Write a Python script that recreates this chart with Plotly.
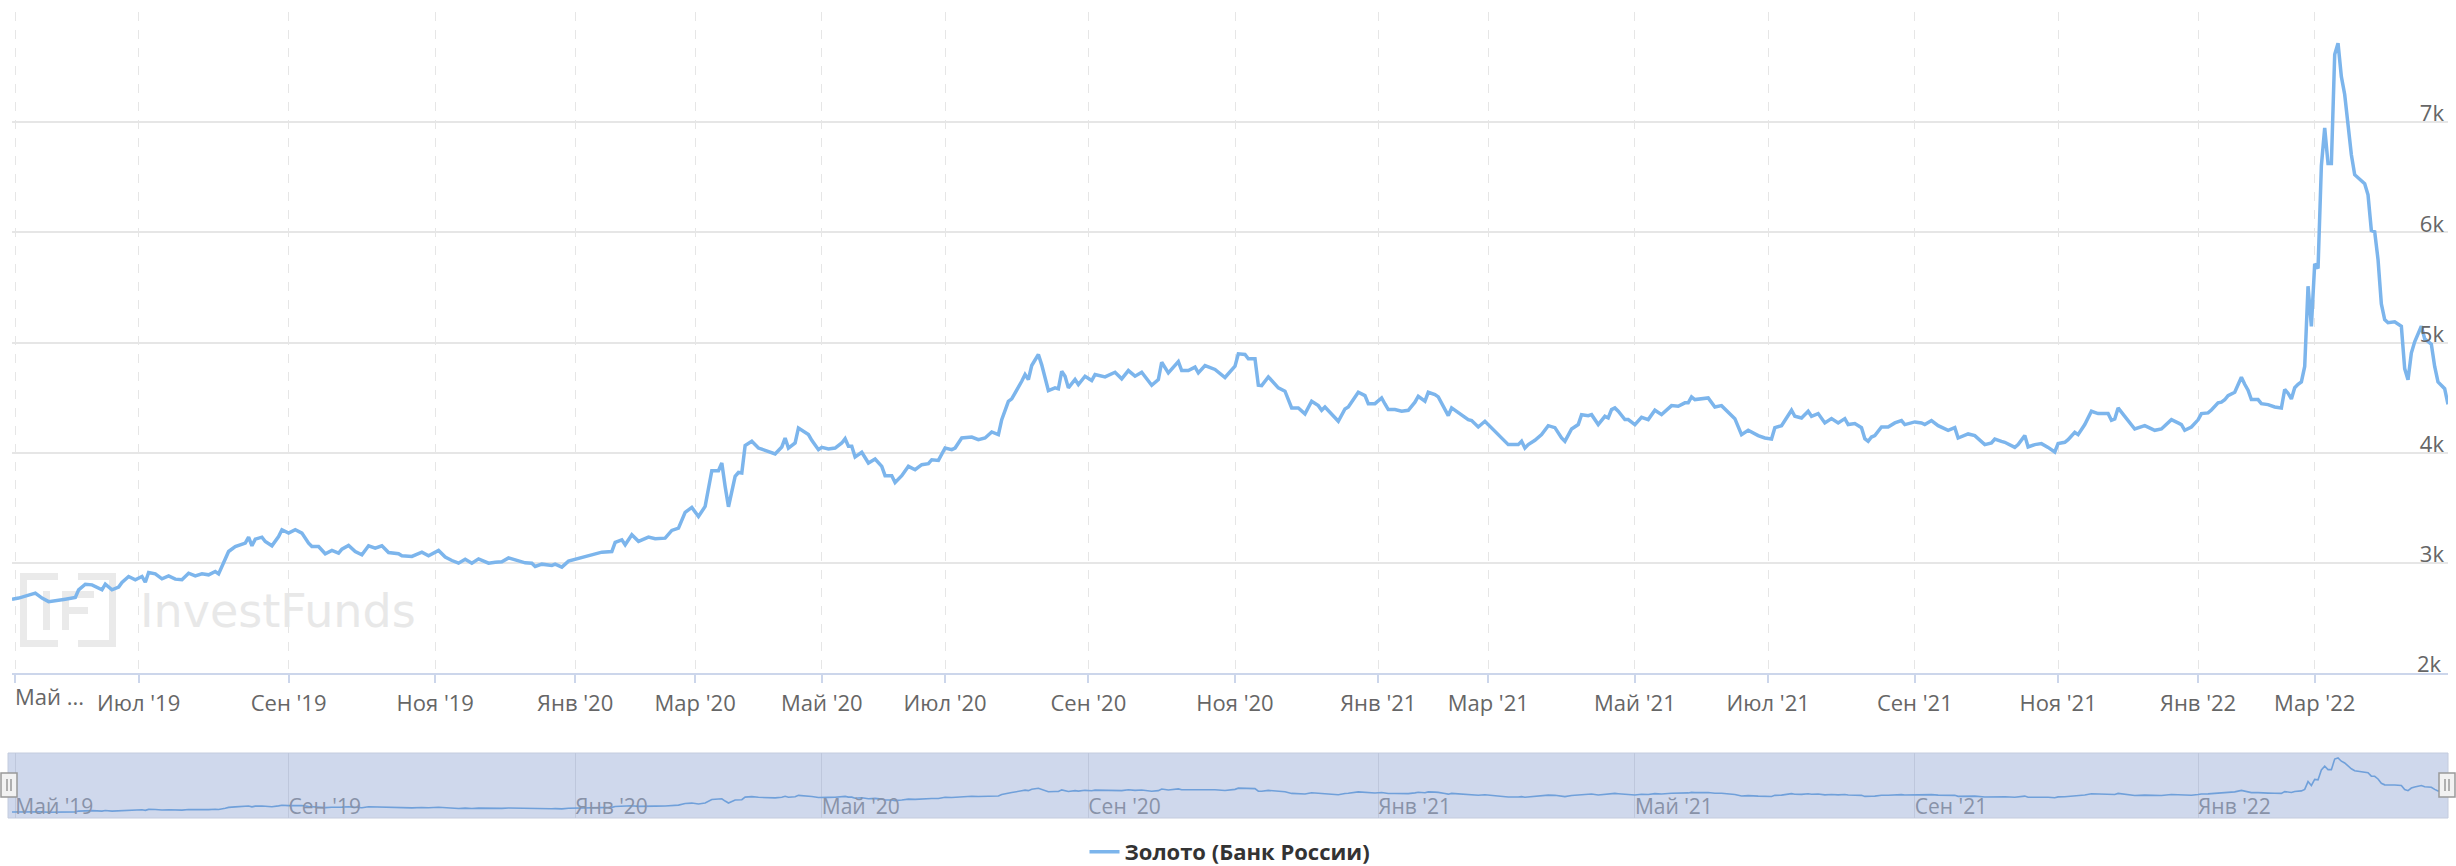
import pandas as pd
import plotly.graph_objects as go

# ---------------- data ----------------
# non-trading weekdays (Russian holidays / days without a published price)
holidays = [
    "2019-05-01", "2019-05-02", "2019-05-03", "2019-05-09", "2019-05-10", "2019-06-12", "2019-11-04",
    "2020-01-01", "2020-01-02", "2020-01-03", "2020-01-06", "2020-01-07", "2020-01-08", "2020-02-24",
    "2020-03-09", "2020-03-30", "2020-03-31", "2020-04-01", "2020-04-02", "2020-04-03",
    "2020-05-01", "2020-05-04", "2020-05-05", "2020-05-11", "2020-06-12", "2020-06-24", "2020-07-01",
    "2020-11-04",
    "2021-01-01", "2021-01-04", "2021-01-05", "2021-01-06", "2021-01-07", "2021-01-08", "2021-02-22",
    "2021-02-23", "2021-03-08", "2021-05-03", "2021-05-10", "2021-06-14", "2021-11-04", "2021-11-05",
    "2021-12-31",
    "2022-01-03", "2022-01-04", "2022-01-05", "2022-01-06", "2022-01-07", "2022-02-23", "2022-03-07",
    "2022-03-08",
]
start_date = "2019-04-30"
end_date = "2022-04-29"

# trading-day number (counted from start_date) of each reading
day_idx = [
    0, 2, 7, 9, 11, 13, 16, 19, 20, 22, 24, 27, 28, 30, 32, 33, 35, 37, 39, 40,
    41, 43, 45, 47, 49, 51, 53, 55, 57, 59, 61, 62, 64, 65, 67, 70, 71, 72, 73, 75,
    76, 78, 80, 81, 83, 85, 87, 89, 90, 92, 94, 96, 98, 99, 101, 103, 105, 107, 109, 111,
    113, 116, 117, 120, 123, 125, 128, 130, 132, 134, 136, 138, 140, 143, 145, 147, 149, 152, 154, 156,
    157, 159, 162, 163, 165, 167, 170, 171, 173, 175, 177, 180, 181, 183, 184, 186, 188, 191, 193, 196,
    198, 200, 202, 204, 206, 208, 210, 212, 213, 214, 215, 217, 218, 219, 220, 222, 224, 226, 228, 229,
    231, 232, 233, 235, 236, 239, 240, 242, 243, 245, 247, 249, 250, 251, 252, 253, 255, 257, 259, 261,
    262, 264, 265, 267, 269, 271, 273, 275, 276, 278, 280, 282, 283, 285, 288, 290, 292, 294, 296, 297,
    299, 300, 303, 304, 305, 306, 308, 309, 311, 313, 314, 315, 316, 317, 319, 320, 322, 324, 325, 328,
    331, 333, 335, 337, 339, 342, 344, 345, 347, 349, 350, 351, 353, 355, 356, 358, 361, 364, 367, 368,
    370, 371, 373, 374, 375, 377, 380, 382, 384, 386, 388, 390, 392, 393, 394, 398, 400, 401, 404, 406,
    407, 409, 411, 412, 413, 415, 417, 419, 421, 422, 424, 425, 427, 428, 430, 431, 432, 434, 437, 438,
    440, 442, 444, 447, 449, 452, 453, 454, 455, 457, 459, 461, 463, 465, 466, 468, 470, 471, 473, 474,
    476, 478, 479, 480, 481, 482, 484, 485, 487, 489, 491, 493, 495, 498, 500, 502, 503, 504, 505, 509,
    511, 513, 515, 517, 519, 521, 524, 526, 528, 529, 531, 534, 535, 537, 539, 540, 542, 544, 546, 548,
    550, 551, 553, 555, 556, 557, 558, 559, 561, 563, 565, 567, 568, 571, 573, 574, 576, 578, 581, 583,
    584, 587, 589, 592, 594, 595, 597, 598, 601, 602, 604, 605, 607, 609, 611, 613, 614, 616, 617, 619,
    620, 622, 624, 626, 629, 630, 631, 632, 634, 636, 637, 640, 643, 645, 648, 650, 651, 652, 654, 656,
    657, 659, 660, 662, 663, 664, 665, 667, 669, 670, 671, 672, 674, 675, 677, 679, 681, 682, 683, 684,
    685, 686, 687, 688, 689, 690, 691, 692, 693, 694, 695, 696, 697, 698, 699, 700, 701, 702, 703, 705,
    706, 707, 708, 709, 710, 711, 712, 713, 715, 717, 718, 719, 720, 721, 723, 724, 726, 727, 728, 730,
    731,
]
price = [
    2670, 2680, 2725, 2680, 2648, 2654, 2670, 2685, 2755, 2806, 2800, 2755, 2806, 2755, 2780, 2821, 2876, 2846, 2876, 2824,
    2912, 2900, 2855, 2882, 2852, 2846, 2906, 2882, 2900, 2891, 2921, 2900, 3027, 3103, 3148, 3179, 3233, 3155, 3215, 3233,
    3194, 3155, 3239, 3300, 3270, 3300, 3270, 3179, 3148, 3148, 3082, 3112, 3088, 3124, 3158, 3103, 3073, 3155, 3133, 3155,
    3094, 3082, 3064, 3058, 3097, 3064, 3112, 3052, 3021, 2997, 3033, 2997, 3036, 2997, 3006, 3009, 3045, 3015, 3000, 2997,
    2967, 2988, 2976, 2988, 2961, 3015, 3042, 3048, 3064, 3082, 3097, 3103, 3185, 3209, 3164, 3255, 3195, 3233, 3218, 3224,
    3294, 3315, 3458, 3503, 3421, 3512, 3836, 3836, 3906, 3694, 3509, 3785, 3820, 3815, 4064, 4103, 4042, 4021, 4003, 3988,
    4052, 4133, 4042, 4088, 4224, 4164, 4112, 4027, 4048, 4033, 4042, 4088, 4127, 4058, 4058, 3961, 4003, 3906, 3942, 3876,
    3791, 3791, 3730, 3791, 3876, 3845, 3891, 3900, 3936, 3930, 4042, 4027, 4042, 4133, 4142, 4118, 4133, 4188, 4164, 4300,
    4466, 4488, 4648, 4709, 4664, 4791, 4891, 4797, 4564, 4588, 4579, 4739, 4694, 4588, 4664, 4618, 4694, 4655, 4709, 4688,
    4730, 4670, 4745, 4694, 4730, 4612, 4664, 4821, 4724, 4797, 4827, 4745, 4745, 4776, 4724, 4791, 4755, 4682, 4785, 4897,
    4891, 4852, 4852, 4612, 4609, 4688, 4588, 4558, 4406, 4406, 4352, 4467, 4427, 4385, 4415, 4285, 4397, 4415, 4548, 4518,
    4445, 4445, 4497, 4442, 4391, 4391, 4376, 4385, 4458, 4512, 4467, 4548, 4527, 4506, 4391, 4336, 4406, 4361, 4300, 4291,
    4233, 4285, 4227, 4133, 4073, 4073, 4103, 4042, 4073, 4112, 4164, 4245, 4227, 4133, 4103, 4215, 4255, 4345, 4336, 4345,
    4255, 4330, 4315, 4391, 4406, 4376, 4300, 4300, 4255, 4321, 4300, 4385, 4345, 4427, 4421, 4452, 4452, 4506, 4482, 4497,
    4415, 4427, 4367, 4309, 4164, 4203, 4155, 4133, 4124, 4227, 4245, 4385, 4330, 4315, 4376, 4330, 4355, 4270, 4309, 4270,
    4309, 4255, 4264, 4227, 4127, 4103, 4142, 4155, 4233, 4233, 4270, 4291, 4255, 4279, 4270, 4255, 4291, 4245, 4203, 4227,
    4133, 4170, 4155, 4073, 4088, 4124, 4103, 4094, 4048, 4073, 4155, 4052, 4073, 4082, 4048, 4006, 4082, 4094, 4118, 4185,
    4164, 4255, 4376, 4355, 4355, 4294, 4306, 4406, 4330, 4255, 4215, 4245, 4203, 4215, 4300, 4270, 4255, 4203, 4233, 4298,
    4355, 4361, 4387, 4452, 4458, 4480, 4518, 4548, 4685, 4621, 4567, 4482, 4482, 4445, 4436, 4415, 4406, 4573, 4540, 4488,
    4589, 4620, 4642, 4783, 5511, 5147, 5714, 5673, 6604, 6947, 6624, 6624, 7615, 7716, 7413, 7251, 6968, 6705, 6523, 6462,
    6442, 6341, 6017, 6005, 5754, 5350, 5208, 5180, 5188, 5147, 4763, 4662, 4904, 5006, 5147, 5034, 4985, 4783, 4642, 4581,
    4439,
]

month_ticks = ["2019-05-01", "2019-07-01", "2019-09-01", "2019-11-01", "2020-01-01", "2020-03-01",
               "2020-05-01", "2020-07-01", "2020-09-01", "2020-11-01", "2021-01-01", "2021-03-01",
               "2021-05-01", "2021-07-01", "2021-09-01", "2021-11-01", "2022-01-01", "2022-03-01"]
month_labels = ["Май '19", "Июл '19", "Сен '19", "Ноя '19", "Янв '20", "Мар '20",
                "Май '20", "Июл '20", "Сен '20", "Ноя '20", "Янв '21", "Мар '21",
                "Май '21", "Июл '21", "Сен '21", "Ноя '21", "Янв '22", "Мар '22"]
nav_ticks = ["2019-05-01", "2019-09-01", "2020-01-01", "2020-05-01", "2020-09-01",
             "2021-01-01", "2021-05-01", "2021-09-01", "2022-01-01"]
nav_labels = ["Май '19", "Сен '19", "Янв '20", "Май '20", "Сен '20",
              "Янв '21", "Май '21", "Сен '21", "Янв '22"]
y_ticks = [2000, 3000, 4000, 5000, 6000, 7000, 8000]
y_labels = ["2k", "3k", "4k", "5k", "6k", "7k", ""]
series_name = "Золото (Банк России)"

# ---------------- build ----------------
trading_days = pd.bdate_range(start_date, end_date, freq="C", holidays=holidays)
dates = trading_days[day_idx]


def first_trading(m):
    return trading_days[trading_days >= pd.Timestamp(m)][0]


main_tickvals = [first_trading(m) for m in month_ticks]
nav_tickvals = [first_trading(m) for m in nav_ticks]
main_ticktext = [""] + month_labels[1:]   # first label is drawn truncated, as in the source
# the lowest y label sits on the bottom edge: drawn as an annotation so it is not hidden
y_ticktext = [""] + y_labels[1:]

W, H = 2456, 866
ML, MR, MT, MB = 12, 8, 12, 48
PW, PH = W - ML - MR, H - MT - MB


def px(x):
    return (x - ML) / PW


def py(y):
    return (H - MB - y) / PH


breaks = [dict(bounds=["sat", "mon"]), dict(values=holidays)]
xrange_ = [trading_days[0], trading_days[day_idx[-1]]]

fig = go.Figure()
fig.add_trace(go.Scatter(
    x=dates, y=price, mode="lines", name="<b>" + series_name + "</b>",
    line=dict(color="#7cb5ec", width=3.5), xaxis="x", yaxis="y", hoverinfo="skip"))
fig.add_trace(go.Scatter(
    x=dates, y=price, mode="lines", showlegend=False,
    line=dict(color="rgb(112,160,218)", width=1.6), xaxis="x2", yaxis="y2", hoverinfo="skip"))

tick_font = dict(family="Open Sans", size=22, color="#666666")
nav_font = dict(family="Open Sans", size=21, color="rgb(136,146,168)")

shapes = [
    # navigator background (mask)
    dict(type="rect", xref="paper", yref="paper", x0=px(8), x1=1, y0=0, y1=py(753),
         fillcolor="rgb(207,216,236)", line=dict(color="rgb(196,204,222)", width=1), layer="below"),
]
# navigator handles
for cx in (9, 2447):
    shapes.append(dict(type="rect", xref="paper", yref="paper",
                       x0=px(cx - 8), x1=px(cx + 8), y0=py(797), y1=py(773),
                       fillcolor="#f2f2f2", line=dict(color="#999999", width=1.5), layer="above"))
    for dx in (-2, 2):
        shapes.append(dict(type="line", xref="paper", yref="paper",
                           x0=px(cx + dx), x1=px(cx + dx), y0=py(791), y1=py(779),
                           line=dict(color="#999999", width=1.5), layer="above"))
# watermark logo
wm = "rgb(234,234,234)"
for (x0, y0, x1, y1) in [(20, 573, 58, 580), (20, 573, 27, 647), (20, 640, 58, 647),
                         (78, 573, 116, 580), (109, 573, 116, 647), (78, 640, 116, 647),
                         (43, 591, 50, 630), (62, 591, 69, 630), (62, 591, 94, 598), (62, 607, 88, 614)]:
    shapes.append(dict(type="rect", xref="paper", yref="paper", x0=px(x0), x1=px(x1),
                       y0=py(y1), y1=py(y0), fillcolor=wm, line=dict(width=0), layer="below"))

annotations = [
    dict(text="Май ...", x=main_tickvals[0], xref="x", xanchor="left", xshift=-2,
         y=py(696), yref="paper", yanchor="middle", showarrow=False, font=tick_font),
    dict(text=y_labels[0], x=px(2444), xref="paper", xanchor="right",
         y=y_ticks[0], yref="y", yanchor="middle", yshift=10, showarrow=False, font=tick_font),
    dict(text="InvestFunds", x=px(138), xref="paper", xanchor="left",
         y=py(611), yref="paper", yanchor="middle", showarrow=False,
         font=dict(family="DejaVu Sans", size=46, color="rgb(232,232,232)")),
]

fig.update_layout(
    width=W, height=H,
    margin=dict(l=ML, r=MR, t=MT, b=MB, autoexpand=False),
    paper_bgcolor="white", plot_bgcolor="white",
    showlegend=True,
    legend=dict(orientation="h", x=0.5, xanchor="center",
                yref="container", y=(H - 852) / H, yanchor="middle",
                font=dict(family="Open Sans", size=22, color="#333333"), bgcolor="rgba(0,0,0,0)",
                borderwidth=0),
    xaxis=dict(type="date", range=xrange_, rangebreaks=breaks, domain=[0, 1], anchor="y",
               tickmode="array", tickvals=main_tickvals, ticktext=main_ticktext,
               showgrid=True, gridcolor="#e6e6e6", gridwidth=1.2, griddash="dash",
               showline=True, linecolor="#ccd6eb", linewidth=2,
               ticks="outside", ticklen=8, tickcolor="#ccd6eb", tickwidth=1.5,
               ticklabelstandoff=2,
               tickfont=tick_font, zeroline=False, fixedrange=True),
    yaxis=dict(range=[2000, 8000], domain=[py(673), 1], anchor="x", side="right",
               tickmode="array", tickvals=y_ticks, ticktext=y_ticktext,
               ticklabelposition="inside top", ticklabelstandoff=1, ticklabelshift=7,
               showgrid=True, gridcolor="#e6e6e6", gridwidth=1.5,
               zeroline=False, showline=False, ticks="", tickfont=tick_font, fixedrange=True),
    xaxis2=dict(type="date", range=xrange_, rangebreaks=breaks, domain=[0, 1], anchor="y2",
                tickmode="array", tickvals=nav_tickvals, ticktext=nav_labels,
                ticklabelposition="inside right", ticklabelstandoff=-6,
                showgrid=True, gridcolor="rgb(190,199,220)",
                gridwidth=1, showline=False, ticks="", tickfont=nav_font, zeroline=False,
                fixedrange=True),
    yaxis2=dict(range=[2110, 8180], domain=[0, py(753)], anchor="x2", visible=False,
                showgrid=False, fixedrange=True),
    shapes=shapes,
    annotations=annotations,
)

fig.write_html("out.html", config={"displayModeBar": False},
               post_script="document.body.style.margin='0';")
